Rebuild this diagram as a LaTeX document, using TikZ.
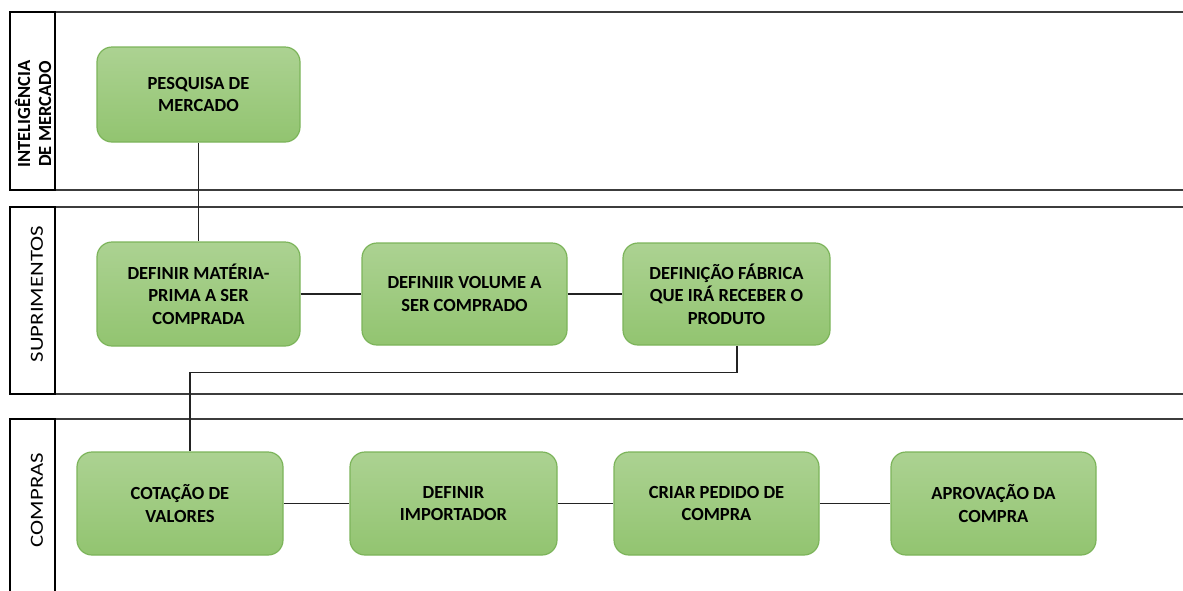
\documentclass[tikz,border=0pt]{standalone}
\usepackage{fontspec}
\setmainfont{Carlito}
\usetikzlibrary{calc}
\definecolor{boxtop}{RGB}{172,210,146}
\definecolor{boxbot}{RGB}{146,196,112}
\definecolor{boxline}{RGB}{124,180,90}
\definecolor{laneline}{RGB}{60,60,60}
\definecolor{conn}{RGB}{35,35,35}
\tikzset{
  procbox/.style={rectangle, rounded corners=15pt, draw=boxline, line width=1.2pt,
    top color=boxtop, bottom color=boxbot, align=center, inner sep=0pt,
    font=\bfseries\fontsize{18.5}{22.5}\selectfont, text=black},
  lanerect/.style={draw=laneline, line width=1.6pt},
  labelrect/.style={draw=black, line width=2pt},
  lanelabel/.style={rotate=90, align=center, inner sep=0pt, text=black},
  conline/.style={draw=conn, line width=1.6pt}
}
\begin{document}
\begin{tikzpicture}[x=1pt,y=-1pt]
\useasboundingbox (0,0) rectangle (1183,590);
% lanes
\draw[lanerect] (1195,12) -- (10,12) -- (10,190) -- (1195,190);
\draw[labelrect] (10,12) rectangle (55,190);
\draw[lanerect] (1195,207) -- (10,207) -- (10,394) -- (1195,394);
\draw[labelrect] (10,207) rectangle (55,394);
\draw[lanerect] (1195,419) -- (10,419) -- (10,600);
\draw[labelrect] (10,600) -- (10,419) -- (55,419) -- (55,600);
% lane labels
\node[lanelabel, font=\bfseries\fontsize{18.5}{21}\selectfont] (l1) at (33,114) {INTELIGÊNCIA\\DE MERCADO};
\node[lanelabel, font=\fontsize{18.5}{21}\selectfont] (l2) at (37,294) {\scalebox{1.23}[1]{SUPRIMENTOS}};
\node[lanelabel, font=\fontsize{18.5}{21}\selectfont] (l3) at (37,500) {\scalebox{1.23}[1]{COMPRAS}};
% boxes
\node[procbox, minimum width=203pt, minimum height=95pt] (pesq) at (198.5,94.5) {PESQUISA DE\\MERCADO};
\node[procbox, minimum width=203pt, minimum height=104pt] (mat) at (198.5,294) {DEFINIR MATÉRIA-\\PRIMA A SER\\COMPRADA};
\node[procbox, minimum width=205pt, minimum height=102pt] (vol) at (464.5,294) {DEFINIIR VOLUME A\\SER COMPRADO};
\node[procbox, minimum width=207pt, minimum height=102pt] (fab) at (726.5,294) {DEFINIÇÃO FÁBRICA\\QUE IRÁ RECEBER O\\PRODUTO};
\node[procbox, minimum width=206pt, minimum height=103pt] (cot) at (180,503.5) {COTAÇÃO DE\\VALORES};
\node[procbox, minimum width=207pt, minimum height=103pt] (imp) at (453.5,503.5) {DEFINIR\\IMPORTADOR};
\node[procbox, minimum width=205pt, minimum height=103pt] (ped) at (716.5,503.5) {CRIAR PEDIDO DE\\COMPRA};
\node[procbox, minimum width=205pt, minimum height=103pt] (apr) at (993.5,503.5) {APROVAÇÃO DA\\COMPRA};
% connectors
\draw[conline] (pesq.south) -- (mat.north);
\draw[conline] (mat.east) -- (vol.west);
\draw[conline] (vol.east) -- (fab.west);
\coordinate (fabout) at ($(fab.south)+(10.5,0)$);
\coordinate (cotin) at ($(cot.north)+(10,0)$);
\draw[conline] (fabout) |- ($(cotin)+(0,-79)$) -- (cotin);
\draw[conline] (cot.east) -- (imp.west);
\draw[conline] (imp.east) -- (ped.west);
\draw[conline] (ped.east) -- (apr.west);
\end{tikzpicture}
\end{document}
